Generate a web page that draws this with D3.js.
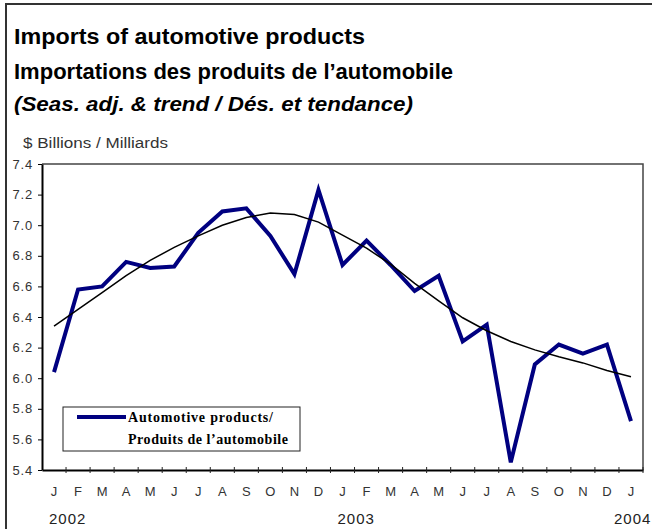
<!DOCTYPE html>
<html>
<head>
<meta charset="utf-8">
<script src="https://cdn.jsdelivr.net/npm/d3@7"></script>
<style>
  body { margin: 0; background: #fff; }
  svg { display: block; }
  .tick text { font-family: "Liberation Sans", Arial, sans-serif; }
</style>
</head>
<body>
<div id="chartid"></div>
<script>
// months Jan 2002 .. Jan 2004
var months = ["J","F","M","A","M","J","J","A","S","O","N","D",
              "J","F","M","A","M","J","J","A","S","O","N","D","J"];
var years = ["2002", "2003", "2004"];
var yticks = [5.4, 5.6, 5.8, 6.0, 6.2, 6.4, 6.6, 6.8, 7.0, 7.2, 7.4];

// seasonally adjusted series
var automotive = [6.04, 6.58, 6.60, 6.76, 6.72, 6.73, 6.95, 7.09, 7.11, 6.93, 6.68, 7.23,
                  6.74, 6.90, 6.74, 6.57, 6.67, 6.24, 6.35, 5.45, 6.09, 6.22, 6.16, 6.22, 5.72];
// trend
var trend = [6.34, 6.45, 6.56, 6.67, 6.77, 6.855, 6.93, 7.00, 7.05, 7.08, 7.07, 7.02,
             6.935, 6.85, 6.745, 6.62, 6.505, 6.395, 6.31, 6.24, 6.185, 6.14, 6.10, 6.05, 6.01];

var W = 652, H = 529;
var margin = {top: 164, right: 9, bottom: 59, left: 42};

var svg = d3.select("#chartid")
  .append("svg")
  .attr("width", W)
  .attr("height", H);

// outer frame
svg.append("rect")
  .attr("x", 6).attr("y", 4)
  .attr("width", W + 10).attr("height", H + 10)
  .style("fill", "none")
  .style("stroke", "#333")
  .style("stroke-width", 2);

// titles
function title(txt, yy, size, len, italic) {
  svg.append("text")
    .attr("x", 14).attr("y", yy)
    .attr("textLength", len)
    .attr("lengthAdjust", "spacingAndGlyphs")
    .style("font-family", "Liberation Sans, Arial, sans-serif")
    .style("font-weight", "bold")
    .style("font-style", italic ? "italic" : "normal")
    .style("font-size", size + "px")
    .text(txt);
}
title("Imports of automotive products", 44, 22, 351, false);
title("Importations des produits de l\u2019automobile", 79, 22, 439, false);
title("(Seas. adj. & trend / Dés. et tendance)", 111, 20, 399, true);

svg.append("text")
  .attr("x", 23).attr("y", 148)
  .attr("textLength", 145)
  .attr("lengthAdjust", "spacingAndGlyphs")
  .style("font-family", "Liberation Sans, Arial, sans-serif")
  .style("font-size", "14px")
  .style("fill", "#333")
  .text("$ Billions / Milliards");

var x = d3.scaleBand()
  .domain(d3.range(months.length))
  .range([margin.left, W - margin.right]);

var y = d3.scaleLinear()
  .domain([5.4, 7.4])
  .range([H - margin.bottom, margin.top]);

var g = svg.append("g");

// top and right plot frame
g.append("path")
  .attr("d", "M" + margin.left + "," + margin.top + "H" + (W - margin.right) + "V" + (H - margin.bottom))
  .style("fill", "none")
  .style("stroke", "#444")
  .style("stroke-width", 1.5);

// y axis
var yAxis = g.append("g")
  .attr("transform", "translate(" + margin.left + ",0)")
  .call(d3.axisLeft(y).tickValues(yticks).tickFormat(d3.format(".1f")).tickSize(4).tickPadding(5).tickSizeOuter(0));
yAxis.select(".domain").style("stroke-width", 2);
yAxis.selectAll(".tick text").style("font-size", "13px").style("letter-spacing", "0.8px").style("fill", "#333");

// x axis: labels in the middle of each category
var xAxis = g.append("g")
  .attr("transform", "translate(0," + (H - margin.bottom) + ")")
  .call(d3.axisBottom(x).tickFormat(function(i) { return months[i]; }).tickSize(0).tickPadding(17).tickSizeOuter(0));
xAxis.select(".domain").style("stroke-width", 2);
xAxis.selectAll(".tick text").style("font-size", "13px").style("fill", "#333");

// category boundary ticks, crossing the axis
g.append("g")
  .selectAll("line")
  .data(d3.range(1, months.length + 1))
  .enter().append("line")
  .attr("x1", function(i) { return x.step() * i + margin.left; })
  .attr("x2", function(i) { return x.step() * i + margin.left; })
  .attr("y1", H - margin.bottom - 3)
  .attr("y2", H - margin.bottom + 3)
  .style("stroke", "#222")
  .style("stroke-width", 1);

// year labels
var yearIdx = [0, 12, 24];
svg.append("g")
  .selectAll("text")
  .data(years)
  .enter().append("text")
  .attr("x", function(d, i) { return i == 2 ? 614 : x(yearIdx[i]) + x.bandwidth() / 2 - 5; })
  .attr("y", 524)
  .style("font-family", "Liberation Sans, Arial, sans-serif")
  .style("font-size", "15px")
  .style("letter-spacing", "1px")
  .style("fill", "#222")
  .text(function(d) { return d; });

var line = d3.line()
  .x(function(d, i) { return x(i) + x.bandwidth() / 2; })
  .y(function(d) { return y(d); });

g.append("path")
  .datum(automotive)
  .attr("d", line)
  .style("fill", "none")
  .style("stroke", "#000080")
  .style("stroke-width", 4)
  .style("stroke-linejoin", "miter");

g.append("path")
  .datum(trend)
  .attr("d", line)
  .style("fill", "none")
  .style("stroke", "#000")
  .style("stroke-width", 1.5);

// legend
var legend = svg.append("g");
legend.append("rect")
  .attr("x", 63).attr("y", 407)
  .attr("width", 237).attr("height", 44)
  .style("fill", "#fff")
  .style("stroke", "#222")
  .style("stroke-width", 1);
legend.append("line")
  .attr("x1", 77).attr("x2", 126)
  .attr("y1", 417).attr("y2", 417)
  .style("stroke", "#000080")
  .style("stroke-width", 4);
legend.append("text")
  .attr("x", 128).attr("y", 422)
  .attr("textLength", 145)
  .attr("lengthAdjust", "spacing")
  .style("font-family", "Liberation Serif, Times New Roman, serif")
  .style("font-weight", "bold")
  .style("font-size", "14px")
  .text("Automotive products/");
legend.append("text")
  .attr("x", 128).attr("y", 444)
  .attr("textLength", 160)
  .attr("lengthAdjust", "spacing")
  .style("font-family", "Liberation Serif, Times New Roman, serif")
  .style("font-weight", "bold")
  .style("font-size", "14px")
  .text("Produits de l\u2019automobile");
</script>
</body>
</html>
